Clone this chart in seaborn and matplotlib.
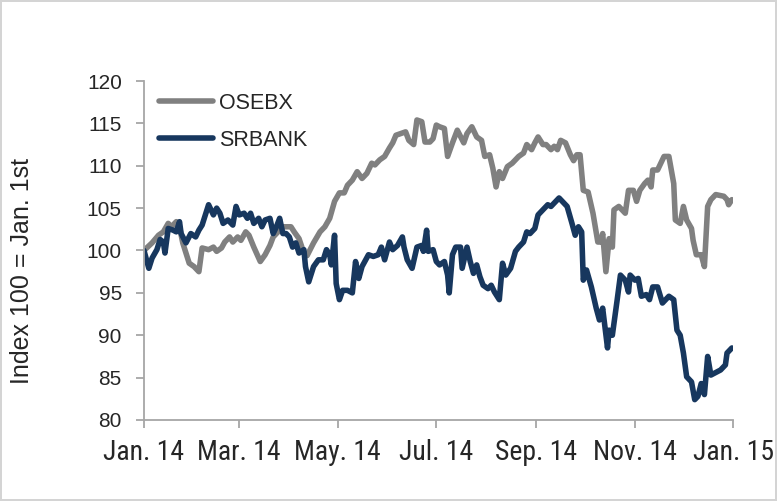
import numpy as np
import pandas as pd
import seaborn as sns
import matplotlib
matplotlib.use('Agg')
import matplotlib.pyplot as plt
from matplotlib import font_manager

# days since 1 Jan 2014 and index values
srbank_days = [0, 3, 5, 8, 10, 12, 13, 15, 18, 20, 22, 23, 26, 29, 32, 34, 36, 40, 43, 45,
               47, 49, 52, 55, 57, 59, 62, 64, 66, 68, 71, 73, 75, 78, 80, 82, 84, 86, 88, 90,
               92, 94, 96, 99, 100, 102, 105, 108, 111, 113, 115, 116, 118, 119, 121, 123, 126, 129, 131, 133,
               135, 139, 142, 145, 147, 149, 152, 154, 157, 160, 161, 163, 166, 169, 172, 173, 175, 176, 179, 181,
               183, 186, 188, 189, 191, 193, 196, 197, 200, 202, 204, 206, 208, 210, 213, 215, 217, 220, 222, 224,
               227, 230, 232, 235, 237, 239, 242, 244, 247, 250, 252, 255, 257, 259, 262, 265, 267, 269, 271, 272,
               274, 277, 280, 282, 284, 287, 288, 290, 293, 295, 298, 300, 301, 304, 306, 308, 311, 313, 315, 318,
               321, 325, 328, 330, 332, 334, 336, 339, 341, 343, 345, 347, 349, 351, 353, 357, 360, 361, 364]
srbank = [100.0, 97.9, 99.1, 100.1, 101.3, 101.0, 99.7, 102.6, 102.4, 102.2, 103.4, 102.0, 100.9, 102.0, 101.6, 102.4, 103.0, 105.4, 104.2, 105.0,
          104.4, 103.2, 103.6, 103.0, 105.2, 104.2, 104.4, 103.8, 104.4, 103.2, 103.8, 102.8, 103.6, 103.8, 102.0, 102.8, 103.8, 102.0, 102.0, 101.6,
          100.4, 100.9, 99.7, 100.1, 98.1, 96.3, 98.1, 98.9, 98.9, 100.1, 99.5, 98.3, 101.8, 96.1, 94.2, 95.3, 95.3, 95.0, 98.7, 96.7,
          98.1, 99.5, 99.3, 99.5, 100.4, 98.9, 101.0, 100.1, 100.6, 101.6, 100.4, 98.9, 97.9, 100.4, 100.6, 99.9, 102.4, 99.9, 100.1, 98.7,
          98.3, 98.7, 97.1, 95.0, 99.5, 100.4, 100.4, 97.9, 100.4, 98.7, 97.3, 98.3, 96.9, 95.9, 95.5, 95.9, 95.1, 94.2, 98.5, 97.1,
          97.9, 99.9, 100.4, 101.0, 102.2, 102.0, 102.6, 104.2, 104.8, 105.4, 105.2, 105.8, 106.2, 105.8, 105.2, 103.2, 101.8, 102.8, 102.2, 96.5,
          97.7, 95.7, 93.2, 91.8, 93.2, 88.5, 90.6, 90.0, 94.2, 97.1, 96.5, 95.1, 97.1, 96.5, 96.7, 94.6, 94.8, 94.2, 95.7, 95.7,
          93.8, 94.6, 94.2, 90.6, 90.0, 87.9, 85.1, 84.5, 82.4, 82.8, 84.3, 83.0, 87.5, 85.3, 85.5, 85.9, 86.5, 87.9, 88.5]

osebx_days = [0, 5, 9, 12, 15, 17, 20, 22, 24, 26, 28, 31, 34, 36, 40, 43, 45, 48, 50, 53,
              55, 58, 60, 63, 65, 68, 72, 75, 78, 80, 83, 85, 88, 91, 93, 96, 99, 101, 105, 109,
              112, 115, 118, 121, 124, 126, 129, 132, 135, 138, 141, 143, 146, 149, 152, 154, 156, 159, 162, 164,
              167, 169, 172, 174, 177, 179, 181, 183, 186, 188, 191, 194, 198, 200, 203, 206, 209, 211, 214, 216,
              218, 220, 222, 225, 228, 232, 235, 237, 240, 242, 244, 247, 249, 252, 254, 256, 258, 261, 264, 266,
              268, 270, 272, 275, 278, 281, 283, 284, 286, 288, 290, 291, 294, 298, 300, 303, 305, 307, 310, 312,
              314, 315, 318, 320, 322, 325, 328, 329, 332, 334, 336, 339, 340, 342, 345, 347, 349, 351, 354, 359,
              361, 362, 364]
osebx = [100.0, 100.9, 101.8, 102.2, 103.2, 102.8, 103.4, 102.8, 100.9, 99.7, 98.5, 98.1, 97.5, 100.3, 100.1, 100.4, 99.9, 100.3, 101.0, 101.6,
         101.0, 101.6, 101.2, 102.2, 101.8, 100.4, 98.7, 99.5, 100.6, 101.6, 102.2, 102.8, 102.8, 102.8, 102.2, 101.4, 99.7, 99.4, 100.9, 102.2,
         102.8, 103.8, 105.8, 106.8, 106.8, 107.7, 108.3, 109.3, 108.5, 109.1, 110.3, 110.1, 110.7, 111.1, 112.1, 112.7, 113.6, 113.8, 114.0, 113.0,
         112.5, 115.4, 115.2, 112.8, 112.8, 113.2, 114.8, 114.6, 114.4, 111.1, 112.7, 114.2, 112.7, 113.8, 114.6, 113.4, 113.0, 111.1, 111.3, 109.7,
         107.5, 109.3, 108.5, 109.9, 110.3, 111.1, 111.5, 112.5, 111.9, 112.7, 113.4, 112.5, 112.5, 111.9, 112.3, 111.9, 113.0, 112.7, 111.3, 110.6,
         111.3, 111.3, 107.1, 106.9, 104.4, 101.0, 101.0, 102.0, 97.5, 101.4, 100.4, 104.8, 105.2, 104.4, 107.1, 107.1, 105.8, 107.1, 107.9, 108.3,
         107.5, 109.5, 109.5, 110.3, 111.1, 111.1, 107.9, 103.6, 103.2, 105.2, 103.6, 102.6, 101.2, 99.5, 99.5, 98.1, 105.2, 106.0, 106.6, 106.4,
         106.0, 105.4, 106.0]

tick_dates = ['2014-01-01', '2014-03-01', '2014-05-01', '2014-07-01', '2014-09-01', '2014-11-01', '2015-01-01']
tick_labels = ['Jan. 14', 'Mar. 14', 'May. 14', 'Jul. 14', 'Sep. 14', 'Nov. 14', 'Jan. 15']

start = pd.Timestamp('2014-01-01')
df_sr = pd.DataFrame({'date': start + pd.to_timedelta(srbank_days, unit='D'), 'value': srbank})
df_os = pd.DataFrame({'date': start + pd.to_timedelta(osebx_days, unit='D'), 'value': osebx})

sns.set_style('white')
plt.rcParams['font.family'] = ['Liberation Sans', 'DejaVu Sans']

# narrow font for the date labels, if one is installed
names = set(f.name for f in font_manager.fontManager.ttflist)
narrow = None
for cand in ['Liberation Sans Narrow', 'Roboto Condensed', 'Open Sans Condensed']:
    if cand in names:
        narrow = cand
        break

fig = plt.figure(figsize=(7.77, 5.01), dpi=100, linewidth=1.5, edgecolor='#d4d4d4')
ax = fig.add_axes([0.1853, 0.1617, 0.7587, 0.6766])

sns.lineplot(data=df_os, x='date', y='value', color='#808080', linewidth=4.0, label='OSEBX', ax=ax)
sns.lineplot(data=df_sr, x='date', y='value', color='#17375e', linewidth=4.0, label='SRBANK', ax=ax)
for ln in ax.lines:
    ln.set_solid_joinstyle('round')
    ln.set_solid_capstyle('round')

ax.set_ylim(80, 120)
ax.set_yticks(range(80, 121, 5))
ax.set_xlim(pd.Timestamp('2014-01-01'), pd.Timestamp('2015-01-01'))
ax.set_xticks(pd.to_datetime(tick_dates))
if narrow is not None:
    ax.set_xticklabels(tick_labels, family=[narrow, 'Liberation Sans'], fontsize=20)
else:
    ax.set_xticklabels(tick_labels, family='DejaVu Sans', fontstretch='condensed', fontsize=17)

for s in ['top', 'right']:
    ax.spines[s].set_visible(False)
for s in ['left', 'bottom']:
    ax.spines[s].set_color('#a6a6a6')
    ax.spines[s].set_linewidth(1.3)
ax.tick_params(axis='y', direction='out', length=6, width=1.3, color='#a6a6a6', labelsize=15, pad=10, left=True)
ax.tick_params(axis='x', direction='out', length=6, width=1.3, color='#a6a6a6', pad=8, bottom=True)

ax.set_xlabel('')
ax.set_ylabel('Index 100 = Jan. 1st', fontsize=18)
ax.yaxis.set_label_coords(-0.187, 0.44)

leg = ax.legend(loc='upper left', frameon=False, fontsize=15.5, handlelength=2.5,
                bbox_to_anchor=(0.0, 1.01), borderaxespad=0.3, labelspacing=0.75, handletextpad=0.3)

fig.savefig('out.png', dpi=100)
